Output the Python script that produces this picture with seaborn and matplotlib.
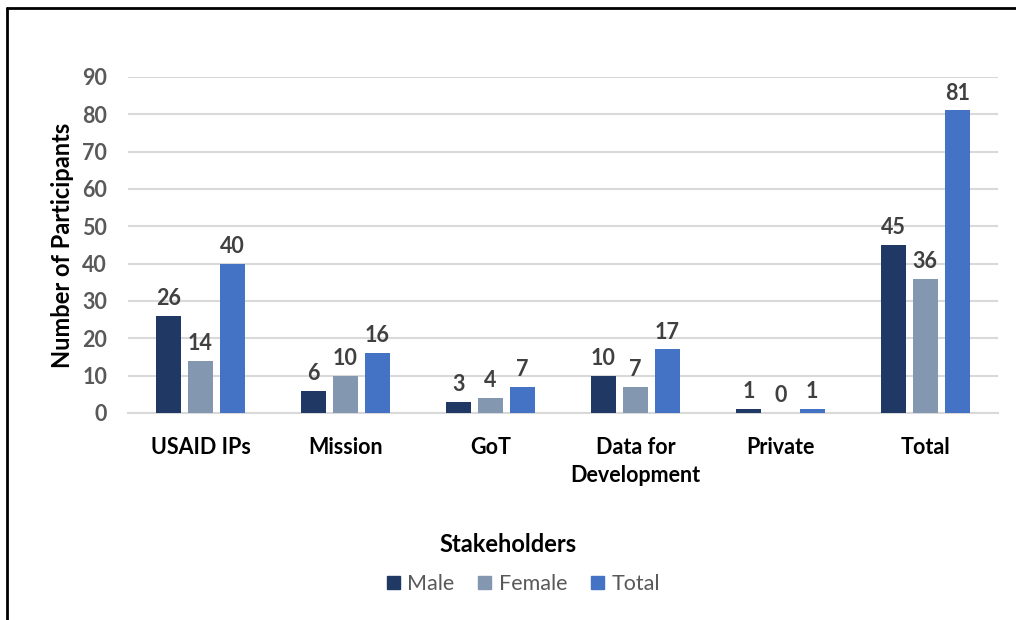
import matplotlib
matplotlib.use("Agg")
import matplotlib.pyplot as plt
from matplotlib.lines import Line2D
import pandas as pd
import seaborn as sns

# Participants by stakeholder group
categories = ["USAID IPs", "Mission", "GoT", "Data for\nDevelopment", "Private", "Total"]
male = [26, 6, 3, 10, 1, 45]
female = [14, 10, 4, 7, 0, 36]
total = [40, 16, 7, 17, 1, 81]
series_names = ["Male", "Female", "Total"]
colors = ["#203864", "#8497B0", "#4472C4"]
y_ticks = [0, 10, 20, 30, 40, 50, 60, 70, 80, 90]

rows = []
for cat, m, f, t in zip(categories, male, female, total):
    rows.append({"Stakeholder": cat, "Gender": "Male", "Count": m})
    rows.append({"Stakeholder": cat, "Gender": "Female", "Count": f})
    rows.append({"Stakeholder": cat, "Gender": "Total", "Count": t})
df = pd.DataFrame(rows)

sns.set_theme(style="white")
plt.rcParams["font.family"] = ["Lato", "DejaVu Sans"]

fig = plt.figure(figsize=(10.16, 6.2), dpi=100)
ax = fig.add_axes([0.126, 0.334, 0.856, 0.542])

sns.barplot(data=df, x="Stakeholder", y="Count", hue="Gender",
            hue_order=series_names, palette=colors, order=categories,
            width=0.66, gap=0.22, saturation=1, ax=ax, legend=False,
            zorder=3, linewidth=0)

for cont in ax.containers:
    ax.bar_label(cont, fmt="%d", padding=5, fontsize=15.5, fontweight="bold",
                 color="#404040")

ax.set_ylim(0, 90)
ax.set_yticks(y_ticks)
ax.set_xlim(-0.5, len(categories) - 0.5)
ax.yaxis.grid(True, color="#D9D9D9", linewidth=1.5, zorder=0)
ax.xaxis.grid(False)
for side in ["top", "right", "left"]:
    ax.spines[side].set_visible(False)
ax.spines["bottom"].set_color("#D9D9D9")
ax.spines["bottom"].set_linewidth(1.5)

ax.tick_params(axis="y", length=0, pad=15, labelsize=15.5, labelcolor="#595959")
ax.tick_params(axis="x", length=0, pad=17, labelsize=15.5, labelcolor="#000000")
for lbl in ax.get_yticklabels():
    lbl.set_fontweight("bold")
for lbl in ax.get_xticklabels():
    lbl.set_fontweight("bold")
    lbl.set_linespacing(1.45)

ax.set_ylabel("Number of Participants", fontsize=17, fontweight="bold",
              color="#000000")
ax.yaxis.set_label_coords(-0.062, 0.5)
ax.set_xlabel("Stakeholders", fontsize=17, fontweight="bold", color="#000000")
ax.xaxis.set_label_coords(0.437, -0.357)

handles = [plt.Rectangle((0, 0), 1, 1, color=c) for c in colors]
fig.legend(handles, series_names, loc="center", bbox_to_anchor=(0.515, 0.058),
           ncol=3, frameon=False, fontsize=15.5, labelcolor="#595959",
           handlelength=0.6, handleheight=0.6, handletextpad=0.35,
           columnspacing=1.1)

# Frame edges along the top and left of the figure
fig.add_artist(Line2D([0.0069, 1.0], [0.987, 0.987], color="black",
                      linewidth=2, transform=fig.transFigure))
fig.add_artist(Line2D([0.0069, 0.0069], [0.0, 0.987], color="black",
                      linewidth=2, transform=fig.transFigure))

fig.savefig("out.png", dpi=100, facecolor="white")
